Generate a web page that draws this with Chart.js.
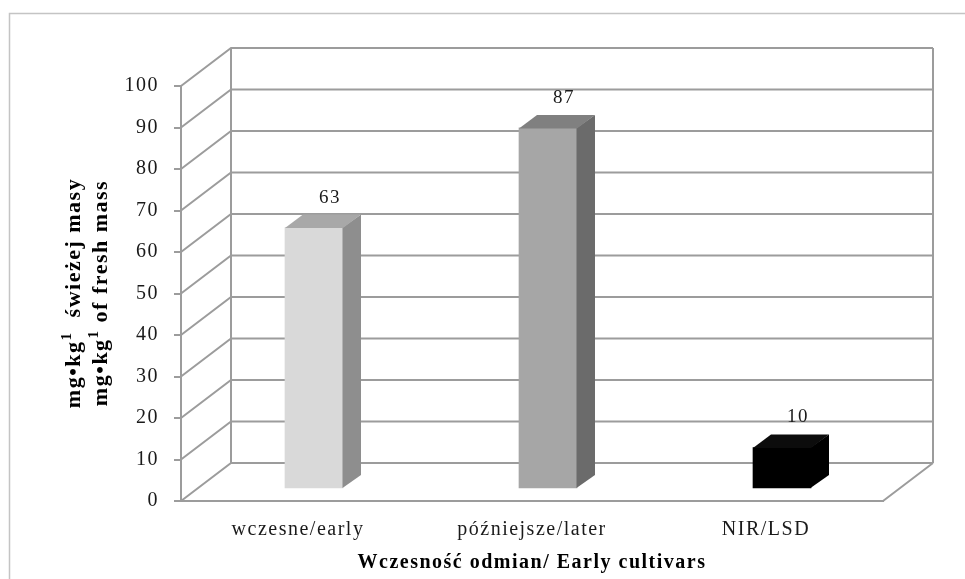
<!DOCTYPE html>
<html>
<head>
<meta charset="utf-8">
<script src="https://cdn.jsdelivr.net/npm/chart.js@4"></script>
<style>
  html, body { margin: 0; padding: 0; background: #ffffff; }
  #wrap { width: 965px; height: 579px; }
</style>
</head>
<body>
<div id="wrap"><canvas id="c" width="965" height="579"></canvas></div>
<script>
// ---- data ----
const categories = ['wczesne/early', 'późniejsze/later', 'NIR/LSD'];
const values = [63, 87, 10];
const yTicks = [0, 10, 20, 30, 40, 50, 60, 70, 80, 90, 100];
const frontColors = ['#d9d9d9', '#a6a6a6', '#000000'];
const sideColors = ['#8e8e8e', '#6b6b6b', '#000000'];
const topColors = ['#a8a8a8', '#808080', '#0c0c0c'];
const yTitleLines = [
  ['mg•kg', '1', '  świeżej masy'],
  ['mg•kg', '1', ' of fresh mass']
];
const xTitle = 'Wczesność odmian/ Early cultivars';

// ---- 3D geometry (pixels) ----
const WALL_DEPTH = { x: 50, y: -38 };   // floor / back wall depth
const BAR_SHIFT = { x: 16, y: -12 };    // front face of bars sits inside the floor
const BAR_DEPTH = { x: 18, y: -13 };    // depth of a bar
const LINE = '#9c9c9c';
const SERIF = '"Liberation Serif", "Times New Roman", serif';

const frame3d = {
  id: 'frame3d',
  beforeDraw(chart) {
    const ctx = chart.ctx;
    ctx.letterSpacing = '1.5px';
    ctx.save();
    ctx.strokeStyle = '#c4c4c4';
    ctx.lineWidth = 1.5;
    ctx.strokeRect(9.5, 13.5, 1000, 600);
    ctx.restore();
  },
  beforeDatasetsDraw(chart) {
    const { ctx, chartArea: a, scales: { y } } = chart;
    const bx0 = a.left + WALL_DEPTH.x;
    const bx1 = a.right + WALL_DEPTH.x;
    ctx.save();
    ctx.strokeStyle = LINE;
    ctx.lineWidth = 2;
    ctx.beginPath();
    y.ticks.forEach(t => {
      const py = y.getPixelForValue(t.value);
      ctx.moveTo(a.left, py);
      ctx.lineTo(bx0, py + WALL_DEPTH.y);
      ctx.lineTo(bx1, py + WALL_DEPTH.y);
    });
    ctx.moveTo(bx0, a.top + WALL_DEPTH.y);
    ctx.lineTo(bx0, a.bottom + WALL_DEPTH.y);
    ctx.moveTo(bx1, a.top + WALL_DEPTH.y);
    ctx.lineTo(bx1, a.bottom + WALL_DEPTH.y);
    ctx.moveTo(a.right, a.bottom);
    ctx.lineTo(bx1, a.bottom + WALL_DEPTH.y);
    ctx.stroke();
    ctx.restore();
    // bars' front faces are drawn by Chart.js inside the floor depth
    ctx.save();
    ctx.translate(BAR_SHIFT.x, BAR_SHIFT.y);
  },
  afterDatasetsDraw(chart) {
    const ctx = chart.ctx;
    ctx.restore();
    const meta = chart.getDatasetMeta(0);
    meta.data.forEach((el, i) => {
      const p = el.getProps(['x', 'y', 'base', 'width'], true);
      const L = p.x - p.width / 2 + BAR_SHIFT.x;
      const R = p.x + p.width / 2 + BAR_SHIFT.x;
      const T = p.y + BAR_SHIFT.y;
      const B = p.base + BAR_SHIFT.y;
      const dx = BAR_DEPTH.x, dy = BAR_DEPTH.y;
      ctx.save();
      ctx.fillStyle = sideColors[i];
      ctx.beginPath();
      ctx.moveTo(R - 0.5, T);
      ctx.lineTo(R + dx, T + dy);
      ctx.lineTo(R + dx, B + dy);
      ctx.lineTo(R - 0.5, B);
      ctx.closePath();
      ctx.fill();
      ctx.fillStyle = topColors[i];
      ctx.beginPath();
      ctx.moveTo(L, T + 0.5);
      ctx.lineTo(L + dx, T + dy);
      ctx.lineTo(R + dx, T + dy);
      ctx.lineTo(R, T + 0.5);
      ctx.closePath();
      ctx.fill();
      ctx.fillStyle = '#1a1a1a';
      ctx.font = '19px ' + SERIF;
      ctx.textAlign = 'center';
      ctx.textBaseline = 'middle';
      ctx.letterSpacing = '1.5px';
      ctx.fillText(String(values[i]), p.x + 32, T - 30);
      ctx.restore();
    });
  },
  afterDraw(chart) {
    const ctx = chart.ctx;
    const big = 'bold 22px ' + SERIF;
    const small = 'bold 15px ' + SERIF;
    const baselines = [80, 107];
    const centerY = 293;
    ctx.save();
    ctx.fillStyle = '#000000';
    ctx.letterSpacing = '1.5px';
    ctx.textAlign = 'left';
    ctx.textBaseline = 'alphabetic';
    yTitleLines.forEach((parts, li) => {
      ctx.font = big;
      const w0 = ctx.measureText(parts[0]).width;
      const w2 = ctx.measureText(parts[2]).width;
      ctx.font = small;
      const w1 = ctx.measureText(parts[1]).width;
      const total = w0 + w1 + w2;
      ctx.save();
      ctx.translate(baselines[li], centerY);
      ctx.rotate(-Math.PI / 2);
      let x = -total / 2;
      ctx.font = big;
      ctx.fillText(parts[0], x, 0);
      x += w0;
      ctx.font = small;
      ctx.fillText(parts[1], x, -9);
      x += w1;
      ctx.font = big;
      ctx.fillText(parts[2], x, 0);
      ctx.restore();
    });
    ctx.restore();
  }
};

new Chart(document.getElementById('c'), {
  type: 'bar',
  data: {
    labels: categories,
    datasets: [{
      data: values,
      backgroundColor: frontColors,
      borderWidth: 0,
      barThickness: 58,
      clip: false
    }]
  },
  options: {
    responsive: false,
    animation: false,
    devicePixelRatio: 1,
    layout: { padding: { left: 0, right: 82, top: 86, bottom: 0 } },
    plugins: {
      legend: { display: false },
      tooltip: { enabled: false }
    },
    scales: {
      x: {
        grid: { display: false, drawTicks: false },
        border: { display: true, color: LINE, width: 2 },
        ticks: {
          color: '#1a1a1a',
          font: { family: SERIF, size: 20 },
          padding: 17,
          maxRotation: 0
        },
        title: {
          display: true,
          text: xTitle,
          color: '#000000',
          font: { family: SERIF, size: 20, weight: 'bold' },
          padding: { top: 0, bottom: 4 }
        },
        afterFit(scale) { scale.height = 78; }
      },
      y: {
        min: 0,
        max: 100,
        afterBuildTicks(scale) { scale.ticks = yTicks.map(v => ({ value: v })); },
        grid: {
          display: true,
          drawOnChartArea: false,
          drawTicks: true,
          tickLength: 7,
          color: LINE,
          lineWidth: 2
        },
        border: { display: true, color: LINE, width: 2 },
        ticks: {
          color: '#1a1a1a',
          font: { family: SERIF, size: 20 },
          padding: 15
        },
        afterFit(scale) { scale.width = 181; }
      }
    }
  },
  plugins: [frame3d]
});
</script>
</body>
</html>
